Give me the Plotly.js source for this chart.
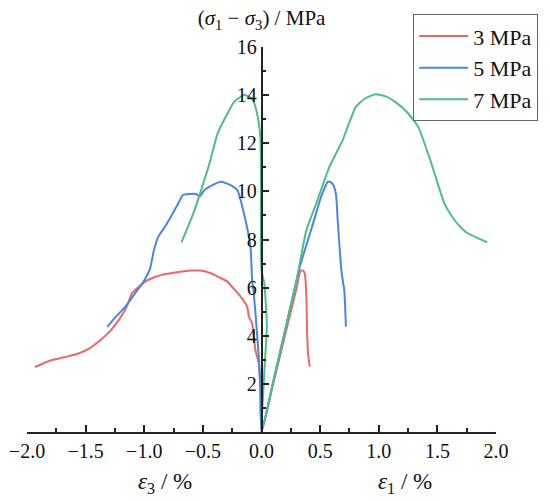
<!DOCTYPE html>
<html>
<head>
<meta charset="utf-8">
<script src="https://cdn.plot.ly/plotly-3.0.1.min.js"></script>
<style>html,body{margin:0;padding:0;background:#fff;font-family:'Liberation Serif';}</style>
</head>
<body>
<div id="chart" style="width:550px;height:501px"></div>
<script>
const seriesNames = ['3 MPa', '5 MPa', '7 MPa'];
const seriesColors = ['#E9686D', '#4A86E0', '#4DBE87'];

// strain (%): negative = eps3 branch, positive = eps1 branch ; deviatoric stress (MPa)
const x3 = [-1.932,-1.85,-1.778,-1.67,-1.567,-1.46,-1.37,-1.29,-1.216,-1.15,-1.104,-1.05,-0.992,-0.92,-0.852,-0.75,-0.65,-0.599,-0.52,-0.431,-0.35,-0.29,-0.263,-0.178,-0.122,-0.108,-0.08,-0.066,-0.052,-0.024,-0.01,0,
            0.1,0.2,0.3,0.333,0.355,0.369,0.383,0.389,0.397,0.411];
const y3 = [2.70,2.88,3.0,3.12,3.25,3.5,3.83,4.2,4.66,5.2,5.77,6.02,6.25,6.42,6.53,6.62,6.69,6.71,6.71,6.6,6.4,6.25,6.1,5.63,5.21,4.8,4.52,3.97,3.41,2.86,1.76,0,
            2.0,4.0,6.0,6.7,6.71,6.6,5.63,4.1,3.28,2.72];

const x5 = [-1.315,-1.25,-1.16,-1.08,-1.006,-0.95,-0.92,-0.88,-0.823,-0.78,-0.71,-0.67,-0.557,-0.529,-0.487,-0.402,-0.347,-0.263,-0.206,-0.15,-0.094,-0.08,-0.066,-0.038,-0.01,0,
            0.1,0.2,0.327,0.44,0.509,0.566,0.59,0.613,0.636,0.65,0.678,0.692,0.706,0.72];
const y5 = [4.36,4.75,5.21,5.75,6.25,6.8,7.5,8.12,8.53,8.88,9.5,9.85,9.89,9.78,10.05,10.3,10.4,10.26,10.05,9.09,7.7,6.32,5.77,4.1,2.03,0,
            2.1,4.2,6.87,8.67,9.78,10.4,10.38,10.26,9.85,8.8,6.87,6.32,5.9,4.38];

const x7 = [-0.683,-0.627,-0.571,-0.515,-0.444,-0.375,-0.305,-0.234,-0.15,-0.08,-0.038,-0.01,-0.004,0.0,0.024,0.04,0.046,0.03,0.019,0,
            0.1,0.2,0.299,0.383,0.467,0.579,0.692,0.804,0.88,0.972,1.06,1.14,1.24,1.337,1.449,1.56,1.646,1.7,1.758,1.85,1.926];
const y7 = [7.88,8.53,9.22,10.05,11.16,12.4,13.1,13.72,14.0,13.86,13.24,12.27,10.47,6.73,6.18,5.07,4.38,3.0,2.03,0,
            2.1,4.2,6.32,8.39,9.5,11.02,12.13,13.51,13.85,14.04,13.95,13.72,13.3,12.68,11.16,9.5,8.81,8.5,8.26,8.05,7.88];

const yTickVals = [2,4,6,8,10,12,14,16];
const yMinorVals = [1,3,5,7,9,11,13,15];
const xTickVals = [-2,-1.5,-1,-0.5,0,0.5,1,1.5,2];
const xTickText = ['\u22122.0','\u22121.5','\u22121.0','\u22120.5','0.0','0.5','1.0','1.5','2.0'];
const xMinorVals = [-1.75,-1.25,-0.75,-0.25,0.25,0.75,1.25,1.75];

const xs = [x3, x5, x7];
const ys = [y3, y5, y7];
const FONT = 'Liberation Serif';

const traces = seriesNames.map((n, i) => ({
  type: 'scatter', mode: 'lines', name: n, x: xs[i], y: ys[i],
  line: {color: seriesColors[i], width: 2, shape: 'spline', smoothing: 0.5}
}));

const layout = {
  width: 550, height: 501,
  margin: {l: 27, r: 48, t: 47, b: 69},
  font: {family: FONT, size: 20, color: '#111'},
  showlegend: true,
  title: {text: '(<i>\u03c3</i><sub>1</sub> \u2212 <i>\u03c3</i><sub>3</sub>) / MPa', x: 0.5, xref: 'paper', xanchor: 'center',
          y: 1 - 18/501, yref: 'container', yanchor: 'middle', font: {size: 21}},
  xaxis: {range: [-2, 2], tickvals: xTickVals, ticktext: xTickText, ticks: 'inside', ticklen: 7, tickwidth: 1.5,
          tickcolor: '#222', showline: true, linecolor: '#222', linewidth: 1.5, showgrid: false, zeroline: false,
          minor: {tickvals: xMinorVals, ticks: 'inside', ticklen: 4, tickwidth: 1.5, tickcolor: '#222', showgrid: false}},
  yaxis: {range: [0, 16], anchor: 'free', position: 0.5, side: 'left', tickvals: yTickVals, ticks: 'inside', ticklen: 7,
          tickwidth: 1.5, tickcolor: '#222', showline: true, linecolor: '#222', linewidth: 1.5, showgrid: false, zeroline: false,
          minor: {tickvals: yMinorVals, ticks: 'inside', ticklen: 4, tickwidth: 1.5, tickcolor: '#222', showgrid: false}},
  legend: {x: 1.09, xanchor: 'right', y: 1.085, yanchor: 'top', bgcolor: '#fff', bordercolor: '#666', borderwidth: 1,
           font: {size: 22}, itemwidth: 49, tracegroupgap: 0},
  annotations: [
    {text: '<i>\u03b5</i><sub>3</sub> / %', x: -0.82, xref: 'x', y: -0.132, yref: 'paper', showarrow: false,
     xanchor: 'center', yanchor: 'middle', font: {size: 23}},
    {text: '<i>\u03b5</i><sub>1</sub> / %', x: 1.22, xref: 'x', y: -0.132, yref: 'paper', showarrow: false,
     xanchor: 'center', yanchor: 'middle', font: {size: 23}}
  ]
};

Plotly.newPlot('chart', traces, layout, {displayModeBar: false});
</script>
</body>
</html>
